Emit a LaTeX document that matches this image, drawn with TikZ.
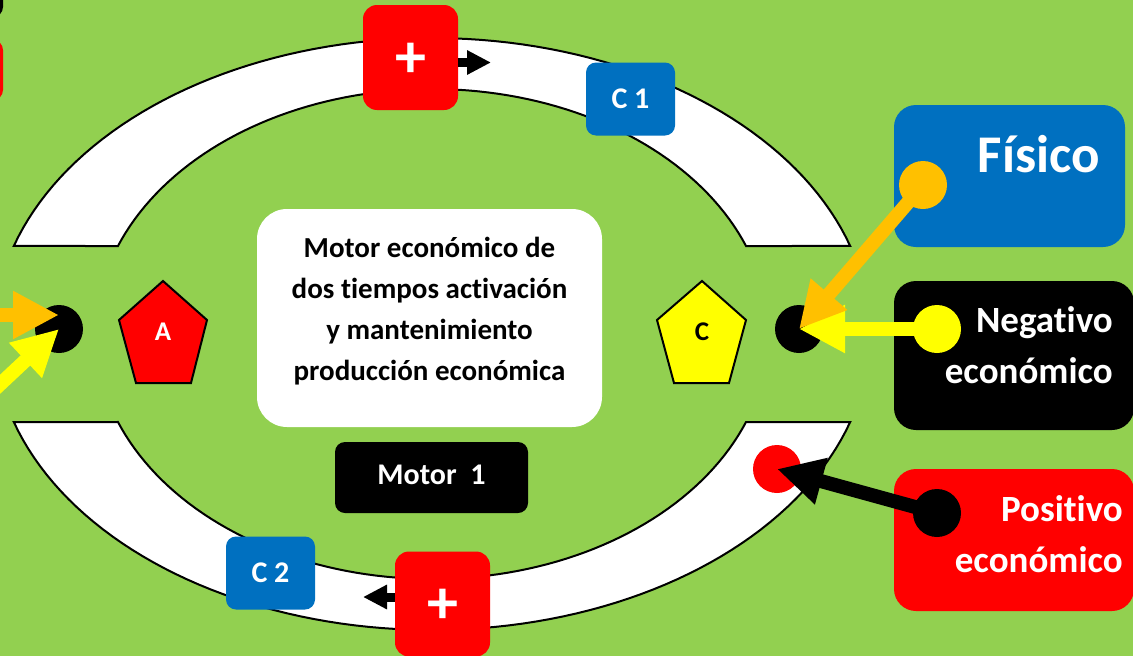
\documentclass[tikz,border=0pt]{standalone}
\usepackage{fontspec}
\setmainfont{Carlito}[Ligatures=NoCommon]
\usetikzlibrary{arrows.meta}

\definecolor{fondo}{HTML}{92D050}
\definecolor{rojo}{HTML}{FF0000}
\definecolor{azul}{HTML}{0070C0}
\definecolor{naranja}{HTML}{FFC000}
\definecolor{amarillo}{HTML}{FFFF00}

\tikzset{
  caja/.style={rectangle, inner sep=0pt, font=\bfseries},
  masbox/.style={caja, fill=rojo, rounded corners=14pt, minimum width=95pt, minimum height=105pt},
  signo/.style={inner sep=0pt, text=white, font=\fontsize{62}{62}\selectfont\bfseries},
  cbox/.style={caja, fill=azul, rounded corners=10pt, minimum width=89pt, minimum height=73pt,
    text=white, font=\fontsize{30}{36}\selectfont\bfseries},
  punto/.style={circle, inner sep=0pt, minimum size=48pt},
  banda/.style={fill=white, draw=black, line width=2pt},
  flecha/.style={line width=14pt, -{Triangle[length=46pt,width=45pt]}},
  flechita/.style={line width=9pt, -{Triangle[length=24pt,width=23pt]}},
  rotulo/.style={inner sep=0pt, text=white, align=right, font=\fontsize{37}{51}\selectfont\bfseries}
}

\begin{document}
\begin{tikzpicture}[x=1pt, y=-1pt]
\clip (0,0) rectangle (1133,656);
\fill [fondo] (0,0) rectangle (1133,656);

% restos del esquema vecino
\fill [black, rounded corners=10pt] (-240,-60) rectangle (3,17);
\fill [rojo, rounded corners=10pt] (-240,40) rectangle (3,100);

% anillo
\draw [banda] plot[domain=197.3:342.7, samples=80] ({432+438*cos(\x)},{334+296*sin(\x)})
  -- plot[domain=338.95:201.05, samples=80] ({432+336.5*cos(\x)},{334+245*sin(\x)}) -- cycle;
\draw [banda] plot[domain=17.3:162.7, samples=80] ({432+438*cos(\x)},{334+296*sin(\x)})
  -- plot[domain=158.95:21.05, samples=80] ({432+336.5*cos(\x)},{334+245*sin(\x)}) -- cycle;

% cajas del anillo
\node [masbox] (mas1) at (410.5,57.5) {};
\node [signo] (s1) at (411,60) {+};
\node [masbox] (mas2) at (442.5,604) {};
\node [signo] (s2) at (443,606) {+};
\node [cbox] (c1) at (630.5,99) {C 1};
\node [cbox] (c2) at (270.5,573) {C 2};
\coordinate (t1) at (491,62.5);
\coordinate (t2) at (363,597);
\draw [flechita] (mas1.east |- t1) -- (t1);
\draw [flechita] (mas2.west |- t2) -- (t2);

% motor
\node [caja, fill=white, rounded corners=30pt, minimum width=345pt, minimum height=218pt] (motor) at (429.5,318) {};
\node [align=center, inner sep=0pt, font=\fontsize{29}{41}\selectfont\bfseries] (motortxt) at (429.5,311)
  {Motor económico de\\dos tiempos activación\\y mantenimiento\\producción económica};
\node [caja, fill=black, rounded corners=10pt, minimum width=193pt, minimum height=71pt] (m1) at (431.5,477.5) {};
\node [inner sep=0pt, text=white, font=\fontsize{30}{36}\selectfont\bfseries] (m1txt) at (431.5,474.5) {Motor~~1};

% pentagonos
\draw [fill=rojo, line width=2pt] (163,281) -- (207,320) -- (191,383) -- (136,383) -- (119,320) -- cycle;
\node [text=white, font=\fontsize{27}{30}\selectfont\bfseries] (pa) at (163,332) {A};
\draw [fill=amarillo, line width=2pt] (702,281) -- (746,320) -- (729,383) -- (674,383) -- (657,320) -- cycle;
\node [font=\fontsize{27}{30}\selectfont\bfseries] (pc) at (702,332) {C};

% puntos de llegada
\node [punto, fill=black] (pizq) at (59,329) {};
\node [punto, fill=black] (pder) at (799,329) {};
\node [punto, fill=rojo] (projo) at (777,469) {};

% cajas de la derecha
\node [caja, fill=azul, rounded corners=22pt, minimum width=231pt, minimum height=142pt] (fis) at (1009.5,176) {};
\node [caja, fill=black, rounded corners=22pt, minimum width=240pt, minimum height=149pt] (neg) at (1014,355.5) {};
\node [caja, fill=rojo, rounded corners=22pt, minimum width=240pt, minimum height=142pt] (pos) at (1014,540) {};
\node [rotulo, anchor=base east, font=\fontsize{53}{60}\selectfont\bfseries] (fistxt) at (1100,172) {Físico};
\node [rotulo, anchor=base east] (negtxt) at (1113,383) {Negativo\\económico};
\node [rotulo, anchor=base east] (postxt) at (1123,572) {Positivo\\económico};

% flechas
\coordinate (fisC) at (923,185);
\coordinate (negC) at (937,329);
\coordinate (posC) at (937,513);
\draw [flecha, amarillo] (negC) -- (pder.center);
\draw [flecha, naranja] (fisC) -- (pder.center);
\draw [flecha, black] (posC) -- (projo.center);
\node [punto, fill=naranja] (fisdot) at (fisC) {};
\node [punto, fill=amarillo] (negdot) at (negC) {};
\node [punto, fill=black] (posdot) at (posC) {};

% flechas que llegan por la izquierda
\coordinate (o1) at (-40,315);
\coordinate (o2) at (-37,419);
\draw [flecha, naranja] (o1) -- (pizq.center |- o1);
\draw [flecha, amarillo] (o2) -- (pizq.center);

\end{tikzpicture}
\end{document}
